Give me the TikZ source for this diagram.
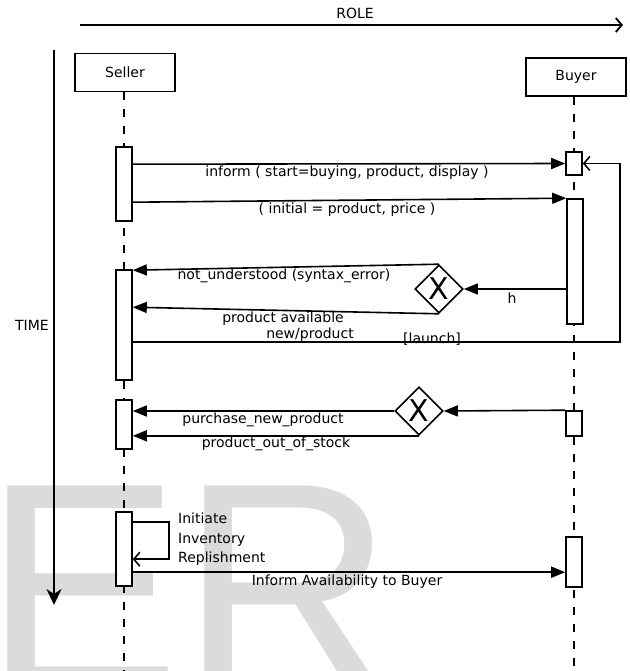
\documentclass[tikz,border=0pt]{standalone}
\usepackage{fontspec}
\setmainfont{DejaVu Sans}
\newfontfamily\wmfont{Liberation Sans}
\usetikzlibrary{positioning,arrows.meta,shapes.geometric,calc}

\begin{document}
\begin{tikzpicture}[x=1pt,y=-1pt,font=\fontsize{14}{16}\selectfont,
  role/.style={draw,line width=1.6pt,minimum width=100pt,minimum height=38pt},
  act/.style={draw,line width=1.6pt,fill=white,minimum width=16pt,inner sep=0pt},
  life/.style={line width=1.2pt,dash pattern=on 8pt off 9pt},
  msg/.style={line width=1.6pt,-{Triangle[length=14pt,width=11pt]}},
  ret/.style={line width=1.6pt,-{Straight Barb[length=6pt,width=14pt]}},
  axis/.style={line width=1.8pt},
  gate/.style={draw,diamond,line width=1.6pt,fill=white,inner sep=0pt,minimum width=48pt,minimum height=48pt,font=\fontsize{30}{30}\selectfont},
  lbl/.style={inner sep=1pt}]
\useasboundingbox (0,0) rectangle (629,671);
\begin{scope}
\clip (0,0) rectangle (629,671);
\node[anchor=base west,inner sep=0pt,text=black!14,font=\fontsize{296}{296}\selectfont\wmfont] (wm) at (-17,689) {ER};
\end{scope}
\coordinate (bot) at (0,671);
% axes
\node (rolelbl) at (355,13) {ROLE};
\coordinate (r0) at (80,25); \coordinate (r1) at (623,25);
\draw[axis,-{Straight Barb[length=6pt,width=14pt]}] (r0) -- (r1);
\coordinate (t0) at (54,50); \coordinate (t1) at (54,605);
\draw[axis,-{Stealth[length=16pt,width=15pt,inset=5pt]}] (t0) -- (t1);
\node[anchor=east,inner sep=0pt] (timelbl) at (49,325) {TIME};
% roles and lifelines
\node[role] (seller) at (125,72.5) {Seller};
\node[role] (buyer) at (576,77) {Buyer};
\draw[life] (seller.south) ++(-1,0) coordinate (sl) -- (sl |- bot);
\draw[life] (buyer.south) ++(-2,0) coordinate (bl) -- (bl |- bot);
\node[act,minimum height=74pt] (sa1) at (124,184) {};
\node[act,minimum height=110pt] (sa2) at (124,325) {};
\node[act,minimum height=49pt] (sa3) at (124,424.5) {};
\node[act,minimum height=74pt] (sa4) at (124,549) {};
\node[act,minimum height=23pt] (ba1) at (574,163.5) {};
\node[act,minimum height=125pt] (ba2) at (575,261.5) {};
\node[act,minimum height=25pt] (ba3) at (574,423.5) {};
\node[act,minimum height=50pt] (ba4) at (574,562) {};
\node[gate] (d1) at (439,289) {X};
\node[gate] (d2) at (419,411) {X};
% messages
\draw[msg] ([yshift=-18pt]sa1.north east) -- (ba1.west);
\node[lbl] (m1) at (347,173) {inform ( start=buying, product, display )};
\draw[msg] ([yshift=-56pt]sa1.north east) -- (ba2.north west);
\node[lbl] (m2) at (347,210) {( initial = product, price )};
\draw[msg] (ba2.west |- d1.east) -- (d1.east);
\node[lbl] (m3) at (512,298) {h};
\draw[msg] (d1.north) -- ([yshift=-1pt]sa2.north east);
\node[lbl] (m4) at (284,276) {not\_understood (syntax\_error)};
\draw[msg] (d1.south) -- ([yshift=-38pt]sa2.north east);
\node[lbl] (m5) at (283,319) {product available};
\node[lbl] (m6) at (310,335) {new/product};
\coordinate (lc) at (620,163.5);
\draw[ret] ([yshift=-73pt]sa2.north east) -| (lc) -- (ba1.east);
\node[lbl] (m7) at (432,339) {[launch]};
\draw[msg] (ba3.north west) -- (d2.east);
\draw[msg] (d2.west) -- (d2.west -| sa3.east);
\node[lbl] (m8) at (263,420) {purchase\_new\_product};
\draw[msg] (d2.south) -- (d2.south -| sa3.east);
\node[lbl] (m9) at (276,444) {product\_out\_of\_stock};
\draw[ret] ([yshift=-11pt]sa4.north east) -- ++(36,0) |- ([yshift=-48pt]sa4.north east);
\node[lbl,anchor=north west,align=left,font=\fontsize{14}{19.5}\selectfont] (m10) at (177,512) {Initiate\\Inventory\\Replishment};
\draw[msg] ([yshift=-61pt]sa4.north east) coordinate (ia) -- (ia -| ba4.west);
\node[lbl] (m11) at (347,582) {Inform Availability to Buyer};
\end{tikzpicture}
\end{document}
